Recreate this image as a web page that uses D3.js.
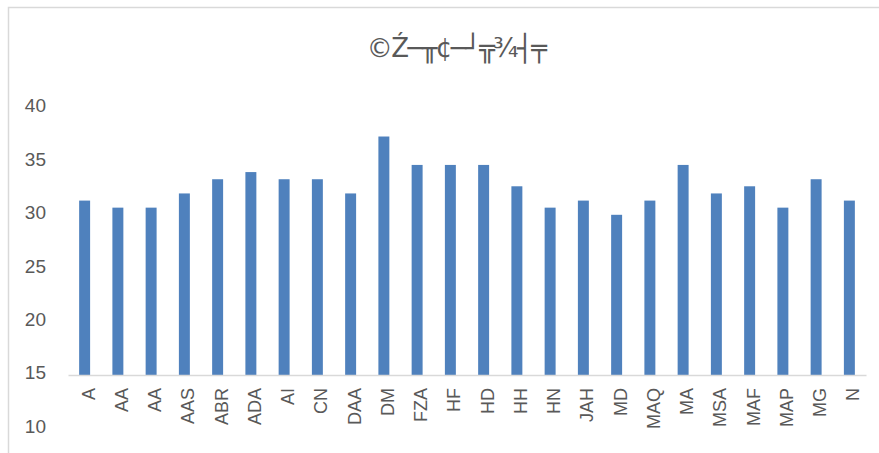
<!DOCTYPE html>
<html>
<head>
<meta charset="utf-8">
<script src="https://cdn.jsdelivr.net/npm/d3@7"></script>
<style>
  body { margin: 0; background: #fff; }
  text { font-family: "Liberation Sans", Arial, sans-serif; fill: #595959; }
</style>
</head>
<body>
<svg width="879" height="453"></svg>
<script>
const categories = ['A', 'AA', 'AA', 'AAS', 'ABR', 'ADA', 'AI', 'CN', 'DAA', 'DM', 'FZA', 'HF',
    'HD', 'HH', 'HN', 'JAH', 'MD', 'MAQ', 'MA', 'MSA', 'MAF', 'MAP', 'MG', 'N'];
const values = [31.33, 30.67, 30.67, 32, 33.33, 34, 33.33, 33.33, 32, 37.33, 34.67, 34.67,
    34.67, 32.67, 30.67, 31.33, 30, 31.33, 34.67, 32, 32.67, 30.67, 33.33, 31.33];
const yTicks = [10, 15, 20, 25, 30, 35, 40];
const title = '©Ź─╥¢─┘╦¾┤╤';

const svg = d3.select('svg');

// chart area border (only top & left show in the picture)
svg.append('rect')
    .attr('x', 8.5).attr('y', 7.5)
    .attr('width', 900).attr('height', 500)
    .attr('fill', 'none').attr('stroke', '#d9d9d9').attr('stroke-width', 1.5);

const x = d3.scaleBand()
    .domain(d3.range(categories.length))
    .range([68, 866])
    .paddingInner(0.67)
    .paddingOuter(0.335);

const y = d3.scaleLinear().domain([15, 40]).range([375, 108]);

svg.append('text')
    .attr('x', 456).attr('y', 57)
    .attr('text-anchor', 'middle')
    .style('font-family', '"DejaVu Sans", sans-serif')
    .style('font-size', '26px')
    .style('letter-spacing', '-1.5px')
    .text(title);

// bars
svg.append('g').selectAll('rect')
    .data(values)
    .join('rect')
    .attr('x', (d, i) => x(i))
    .attr('y', d => y(d))
    .attr('width', x.bandwidth())
    .attr('height', d => y(15) - y(d))
    .attr('fill', '#4f81bd');

// x axis
const xAxis = svg.append('g')
    .attr('transform', `translate(0,${y(15)})`)
    .call(d3.axisBottom(x).tickSize(0).tickSizeOuter(0).tickFormat(i => categories[i]));
xAxis.select('.domain').attr('stroke', '#d9d9d9').attr('stroke-width', 1.5);
xAxis.selectAll('text')
    .attr('transform', 'rotate(-90)')
    .attr('x', -13).attr('y', 0)
    .attr('dy', '0.55em')
    .attr('text-anchor', 'end')
    .style('font-size', '18px')
    .style('fill', '#595959');

// y axis (labels only)
const yAxis = svg.append('g')
    .attr('transform', 'translate(46,0)')
    .call(d3.axisLeft(y).tickValues(yTicks).tickSize(0).tickPadding(0));
yAxis.select('.domain').remove();
yAxis.selectAll('text')
    .attr('dy', '0.2em')
    .style('font-size', '19px')
    .style('fill', '#595959');
</script>
</body>
</html>
